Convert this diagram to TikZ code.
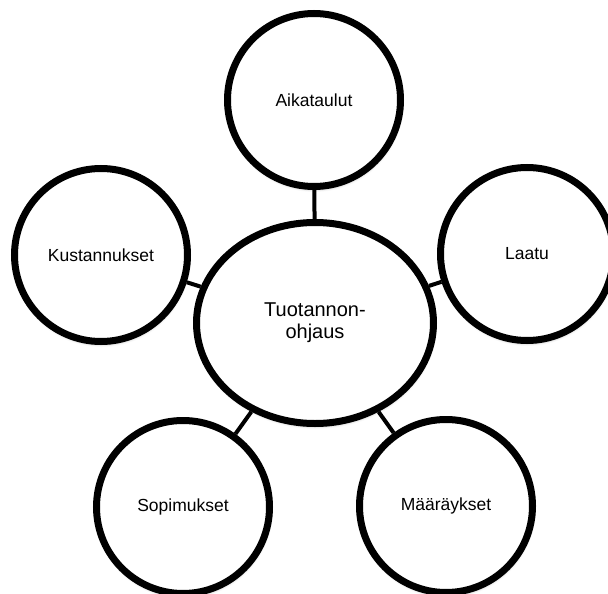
\documentclass[tikz,border=0pt]{standalone}
\usepackage{fontspec}
\setmainfont{Liberation Sans}
\usetikzlibrary{shapes.geometric,backgrounds,shadows.blur}

\tikzset{
  ring/.style={circle, draw=black, line width=7pt, fill=white,
    minimum size=173pt, inner sep=0pt, align=center,
    font=\fontsize{17.5}{20}\selectfont,
    blur shadow={shadow xshift=0.5pt, shadow yshift=-2.5pt,
      shadow blur radius=3pt, shadow opacity=35}},
  hub/.style={ellipse, draw=black, line width=7pt, fill=white,
    minimum width=237pt, minimum height=201pt, inner sep=0pt, align=center,
    font=\fontsize{20}{21.7}\selectfont,
    blur shadow={shadow xshift=0.5pt, shadow yshift=-2.5pt,
      shadow blur radius=3pt, shadow opacity=35}},
  link/.style={draw=black, line width=4pt}
}

\begin{document}
\begin{tikzpicture}[x=1pt,y=-1pt]
  \useasboundingbox (0,0) rectangle (608,594);

  % central topic and its five satellites
  \node[hub]  (hub)  at (315,323) {Tuotannon-\\ohjaus};
  \node[ring] (aika) at (314,100) {Aikataulut};
  \node[ring] (laatu) at (527,254) {Laatu};
  \node[ring] (maar) at (446,506) {Määräykset};
  \node[ring] (sopi) at (183,507) {Sopimukset};
  \node[ring] (kust) at (101,255) {Kustannukset};

  % spokes behind the circles
  \begin{scope}[on background layer]
    \draw[link] (hub) -- (aika);
    \draw[link] (hub) -- (laatu);
    \draw[link] (hub) -- (maar);
    \draw[link] (hub) -- (sopi);
    \draw[link] (hub) -- (kust);
  \end{scope}
\end{tikzpicture}
\end{document}
